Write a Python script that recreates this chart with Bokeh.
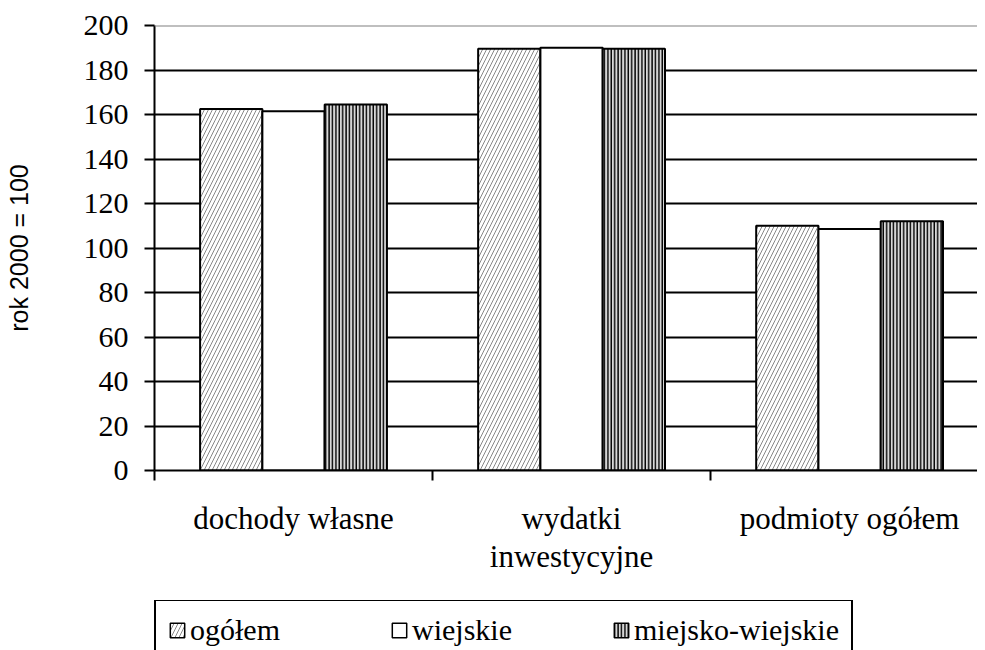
from bokeh.plotting import figure
from bokeh.layouts import column
from bokeh.models import Range1d, FixedTicker, Span, Legend, LegendItem, ColumnDataSource
from bokeh.embed import file_html
from bokeh.resources import INLINE

categories = ["dochody własne", "wydatki\ninwestycyjne", "podmioty ogółem"]
series_names = ["ogółem", "wiejskie", "miejsko-wiejskie"]
ogolem = [162.5, 189.5, 110.0]
wiejskie = [161.5, 190.0, 108.5]
miejsko_wiejskie = [164.5, 189.5, 112.0]
y_ticks = [0, 20, 40, 60, 80, 100, 120, 140, 160, 180, 200]

SERIF = "Liberation Serif"
BAR_W = 0.224

p = figure(width=977, height=600, x_range=Range1d(0, 2.96), y_range=Range1d(0, 200),
           output_backend="svg", toolbar_location=None,
           min_border_left=154, min_border_right=0, min_border_top=25, min_border_bottom=130)
p.outline_line_color = None
p.background_fill_color = "white"
p.border_fill_color = "white"

# grid
p.xgrid.visible = False
p.ygrid.ticker = FixedTicker(ticks=y_ticks[1:-1])
p.ygrid.grid_line_color = "black"
p.ygrid.grid_line_width = 2
p.add_layout(Span(location=y_ticks[-1], dimension="width", line_color="#808080", line_width=2))

# bars
styles = [
    dict(fill_color="white", hatch_pattern="/", hatch_color="#888888", hatch_scale=8, hatch_weight=1.0),
    dict(fill_color="white"),
    dict(fill_color="#d8d8d8", hatch_pattern="|", hatch_color="black", hatch_scale=3.4, hatch_weight=1.4),
]
for j, vals in enumerate([ogolem, wiejskie, miejsko_wiejskie]):
    xs = [i + 0.5 + (j - 1) * BAR_W for i in range(len(categories))]
    src = ColumnDataSource(dict(x=xs, top=vals))
    p.vbar(x="x", top="top", bottom=0, width=BAR_W, source=src,
           line_color="black", line_width=2, **styles[j])

# x axis
xa = p.xaxis[0]
xa.ticker = FixedTicker(ticks=[i + 0.5 for i in range(len(categories))],
                        minor_ticks=list(range(len(categories) + 1)))
xa.major_label_overrides = {i + 0.5: c for i, c in enumerate(categories)}
xa.major_tick_line_color = None
xa.major_tick_out = 0
xa.major_tick_in = 0
xa.minor_tick_out = 10
xa.minor_tick_in = 0
xa.minor_tick_line_width = 2
xa.minor_tick_line_color = "black"
xa.axis_line_width = 2
xa.axis_line_color = "black"
xa.major_label_standoff = 20
xa.major_label_text_font = SERIF
xa.major_label_text_font_size = "31px"
xa.major_label_text_line_height = 1.1
xa.major_label_text_color = "black"

# y axis
ya = p.yaxis[0]
ya.ticker = FixedTicker(ticks=y_ticks)
ya.minor_tick_line_color = None
ya.major_tick_out = 10
ya.major_tick_in = 0
ya.major_tick_line_width = 2
ya.major_tick_line_color = "black"
ya.axis_line_width = 2
ya.axis_line_color = "black"
ya.major_label_standoff = 16
ya.major_label_text_font = SERIF
ya.major_label_text_font_size = "30px"
ya.major_label_text_color = "black"
ya.axis_label = "rok 2000 = 100"
ya.axis_label_text_font = "Liberation Sans"
ya.axis_label_text_font_size = "25px"
ya.axis_label_text_font_style = "normal"
ya.axis_label_text_color = "black"
ya.axis_label_standoff = 48

# legend strip (separate figure under the chart; swatch renderers lie outside its range)
lg = figure(width=977, height=50, x_range=Range1d(0, 1), y_range=Range1d(0, 1),
            output_backend="svg", toolbar_location=None,
            min_border_left=0, min_border_right=0, min_border_top=0, min_border_bottom=0)
lg.outline_line_color = None
lg.axis.visible = False
lg.grid.visible = False
swatches = []
for j in range(len(series_names)):
    swatches.append(lg.vbar(x=[-5], top=[1], bottom=0, width=0.1,
                            line_color="black", line_width=1.5, **styles[j]))

legend = Legend(items=[LegendItem(label=n, renderers=[r]) for n, r in zip(series_names, swatches)],
                orientation="horizontal", location=(0, -11), margin=0, padding=12,
                spacing=30, label_width=170, label_standoff=4,
                glyph_width=18, glyph_height=18,
                label_text_font=SERIF, label_text_font_size="30px", label_text_color="black",
                border_line_color="black", border_line_width=2, border_line_alpha=1.0,
                background_fill_color="white", background_fill_alpha=1.0)
lg.add_layout(legend, "center")

layout = column(p, lg, spacing=0)
open("out.html", "w").write(file_html(layout, INLINE))
